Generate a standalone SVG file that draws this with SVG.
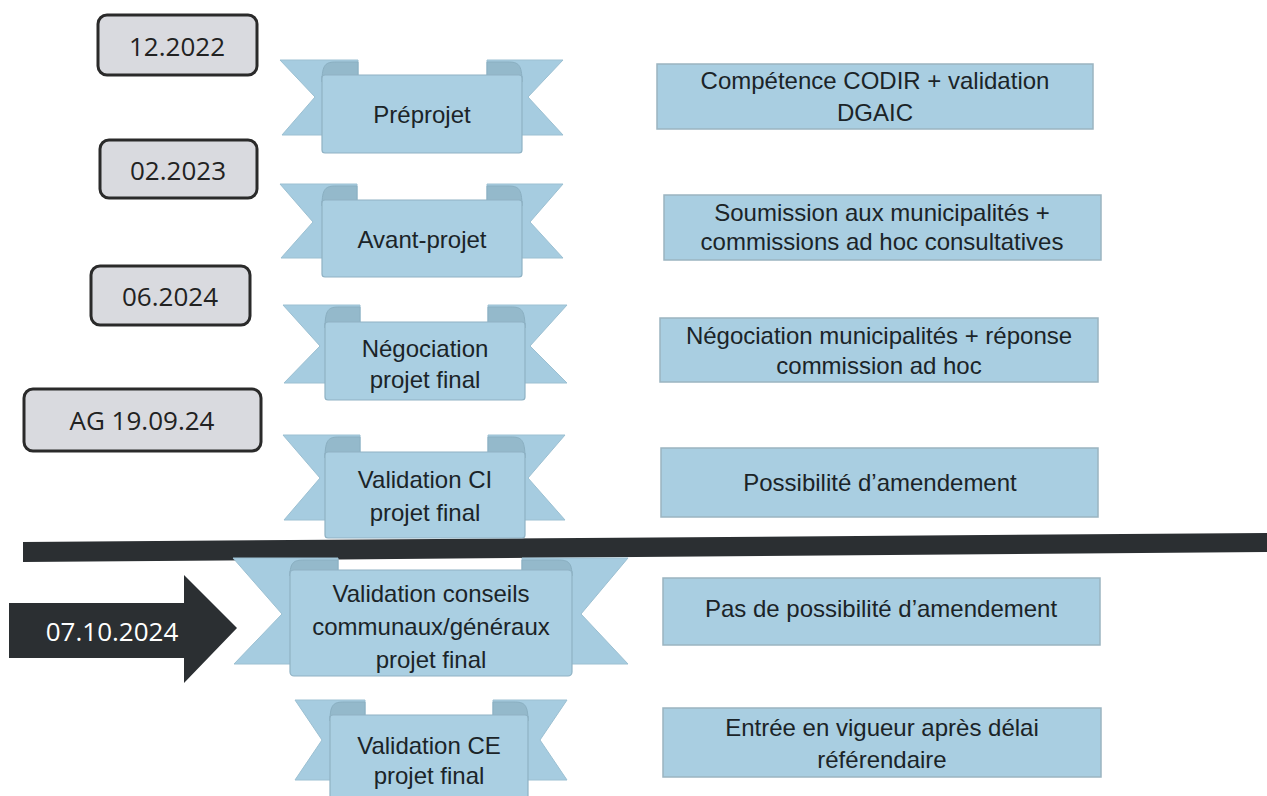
<svg xmlns="http://www.w3.org/2000/svg" width="1267" height="796" viewBox="0 0 1267 796">
<style>
.tail{fill:#a6cce0;stroke:#9cc0d2;stroke-width:1}
.fold{fill:#94b9cb;stroke:#8aafc1;stroke-width:1}
.body{fill:#aacfe2;stroke:#8fb2c4;stroke-width:1.2}
.rt{font-family:"Liberation Sans",Arial,sans-serif;font-size:24px;fill:#1b2428;text-anchor:middle}
.box{fill:#a9cee1;stroke:#9bb4c0;stroke-width:1.5}
.date{fill:#d9dadf;stroke:#2a2a2a;stroke-width:3}
.dt{font-family:"Open Sans",sans-serif;font-size:26px;fill:#222;text-anchor:middle}
.dark{fill:#2b2f32}
</style>
<rect width="1267" height="796" fill="#ffffff"/>

<g id="separator">
<polygon class="dark" points="23,542 1267,533 1267,552 23,562"/>
</g>

<g id="date-12-2022">
<rect class="date" x="98" y="15" width="159" height="60" rx="9"/>
<text class="dt" x="177" y="56">12.2022</text>
</g>
<g id="date-02-2023">
<rect class="date" x="100" y="140" width="157" height="58" rx="9"/>
<text class="dt" x="178" y="180">02.2023</text>
</g>
<g id="date-06-2024">
<rect class="date" x="91" y="266" width="159" height="59" rx="9"/>
<text class="dt" x="170" y="306">06.2024</text>
</g>
<g id="date-ag">
<rect class="date" x="24" y="389" width="237" height="62" rx="9"/>
<text class="dt" x="142" y="430">AG 19.09.24</text>
</g>

<g id="arrow-07-10-2024">
<polygon class="dark" points="9,603 184,603 184,575 237,628 184,683 184,658 9,658"/>
<text class="dt" x="112" y="641" style="fill:#ffffff">07.10.2024</text>
</g>

<g id="ribbon-preprojet">
<path class="tail" d="M280,60 H358 V135 H282 L315,97 Z"/>
<path class="tail" d="M563,60 H487 V135 H563 L528,97 Z"/>
<path class="fold" d="M322,82 C322,64 326,62 336,62 H358 V76 H322 Z"/>
<path class="fold" d="M522,82 C522,64 518,62 508,62 H487 V76 H522 Z"/>
<rect class="body" x="322" y="75" width="200" height="78" rx="3"/>
<text class="rt" x="422" y="123">Préprojet</text>
</g>

<g id="ribbon-avant-projet">
<path class="tail" d="M280,184 H357 V258 H281 L313,222 Z"/>
<path class="tail" d="M563,184 H487 V258 H563 L530,222 Z"/>
<path class="fold" d="M322,206 C322,188 326,186 336,186 H357 V201 H322 Z"/>
<path class="fold" d="M522,206 C522,188 518,186 508,186 H487 V201 H522 Z"/>
<rect class="body" x="322" y="200" width="200" height="77" rx="3"/>
<text class="rt" x="422" y="248">Avant-projet</text>
</g>

<g id="ribbon-negociation">
<path class="tail" d="M283,305 H360 V383 H284 L320,346 Z"/>
<path class="tail" d="M567,305 H488 V383 H567 L530,346 Z"/>
<path class="fold" d="M325,328 C325,309 329,307 339,307 H360 V323 H325 Z"/>
<path class="fold" d="M525,328 C525,309 521,307 511,307 H488 V323 H525 Z"/>
<rect class="body" x="325" y="322" width="200" height="78" rx="3"/>
<text class="rt" x="425" y="357">Négociation</text>
<text class="rt" x="425" y="388">projet final</text>
</g>

<g id="ribbon-validation-ci">
<path class="tail" d="M283,435 H360 V520 H284 L320,478 Z"/>
<path class="tail" d="M565,435 H488 V520 H565 L528,478 Z"/>
<path class="fold" d="M325,458 C325,439 329,437 339,437 H360 V453 H325 Z"/>
<path class="fold" d="M525,458 C525,439 521,437 511,437 H488 V453 H525 Z"/>
<rect class="body" x="325" y="452" width="200" height="86" rx="3"/>
<text class="rt" x="425" y="488">Validation CI</text>
<text class="rt" x="425" y="521">projet final</text>
</g>

<g id="ribbon-conseils">
<path class="tail" d="M233,558 H338 V664 H234 L282,614 Z"/>
<path class="tail" d="M628,558 H522 V664 H628 L581,614 Z"/>
<path class="fold" d="M290,576 C290,562 294,560 304,560 H338 V571 H290 Z"/>
<path class="fold" d="M572,576 C572,562 568,560 558,560 H522 V571 H572 Z"/>
<rect class="body" x="290" y="570" width="282" height="106" rx="4"/>
<text class="rt" x="431" y="602">Validation conseils</text>
<text class="rt" x="431" y="635">communaux/généraux</text>
<text class="rt" x="431" y="668">projet final</text>
</g>

<g id="ribbon-ce">
<path class="tail" d="M295,700 H365 V780 H295 L322,740 Z"/>
<path class="tail" d="M567,700 H493 V780 H567 L540,740 Z"/>
<path class="fold" d="M330,721 C330,704 334,702 344,702 H365 V716 H330 Z"/>
<path class="fold" d="M528,721 C528,704 524,702 514,702 H493 V716 H528 Z"/>
<rect class="body" x="330" y="715" width="198" height="90" rx="3"/>
<text class="rt" x="429" y="754">Validation CE</text>
<text class="rt" x="429" y="784">projet final</text>
</g>

<g id="desc-1">
<rect class="box" x="657" y="64" width="436" height="65"/>
<text class="rt" x="875" y="89">Compétence CODIR + validation</text>
<text class="rt" x="875" y="121">DGAIC</text>
</g>
<g id="desc-2">
<rect class="box" x="664" y="195" width="437" height="65"/>
<text class="rt" x="882" y="221">Soumission aux municipalités +</text>
<text class="rt" x="882" y="250">commissions ad hoc consultatives</text>
</g>
<g id="desc-3">
<rect class="box" x="660" y="318" width="438" height="64"/>
<text class="rt" x="879" y="344">Négociation municipalités + réponse</text>
<text class="rt" x="879" y="374">commission ad hoc</text>
</g>
<g id="desc-4">
<rect class="box" x="661" y="448" width="437" height="69"/>
<text class="rt" x="880" y="491">Possibilité d’amendement</text>
</g>
<g id="desc-5">
<rect class="box" x="663" y="578" width="437" height="67"/>
<text class="rt" x="881" y="617">Pas de possibilité d’amendement</text>
</g>
<g id="desc-6">
<rect class="box" x="663" y="708" width="438" height="69"/>
<text class="rt" x="882" y="736">Entrée en vigueur après délai</text>
<text class="rt" x="882" y="768">référendaire</text>
</g>
</svg>
